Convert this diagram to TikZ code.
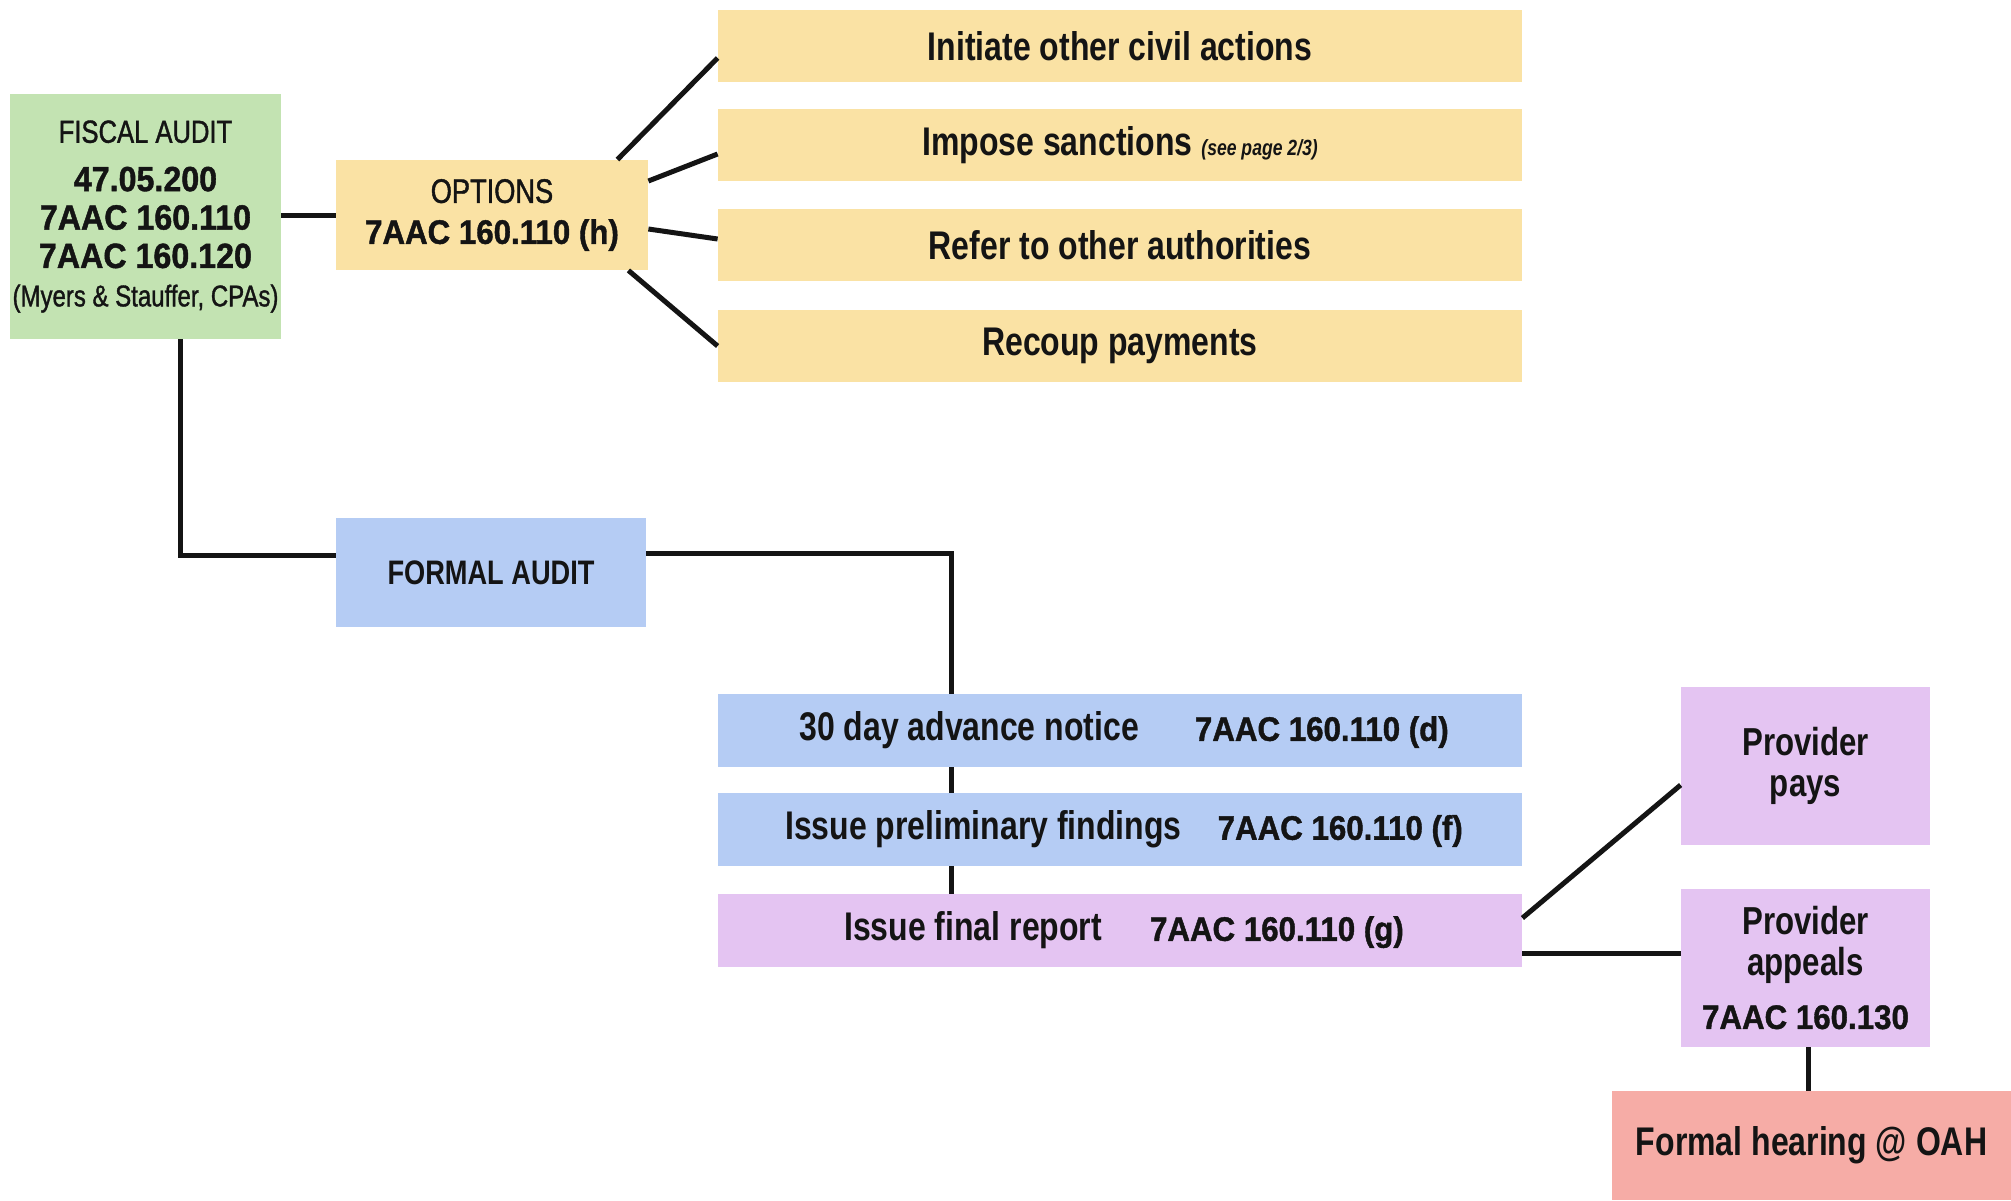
\documentclass[tikz,border=0pt]{standalone}
\usepackage{fontspec}
\setmainfont{Liberation Sans}
\newfontfamily\nar[FakeStretch=0.8]{Liberation Sans}
\newfontfamily\narm[FakeStretch=0.8,FakeBold=1.2]{Liberation Sans}
\newfontfamily\cod[FakeStretch=0.92,FakeBold=1.2]{Liberation Sans}
\usetikzlibrary{calc}
\definecolor{cgreen}{HTML}{C3E3B2}
\definecolor{cyellow}{HTML}{FAE2A4}
\definecolor{cblue}{HTML}{B5CCF4}
\definecolor{clilac}{HTML}{E4C4F2}
\definecolor{csalmon}{HTML}{F6ACA6}
\definecolor{ink}{HTML}{141414}
\begin{document}
\begin{tikzpicture}[x=0.5pt,y=-0.5pt,
  box/.style={inner sep=0pt, align=center, text=ink},
  wide/.style={box, minimum width=402pt, minimum height=36pt, font=\nar\bfseries\fontsize{20}{22}\selectfont},
  tall/.style={box, fill=clilac, minimum width=124.5pt, minimum height=79pt, font=\nar\bfseries\fontsize{19.5}{20.5}\selectfont},
  ln/.style={line width=2.5pt, ink}]
\useasboundingbox (0,0) rectangle (2011,1200);
\fill[white] (0,0) rectangle (2011,1200);

% nodes
\node[box, fill=cgreen, minimum width=135.5pt, minimum height=122.5pt,
  font=\cod\bfseries\fontsize{17.5}{19.2}\selectfont] (fiscal) at (145.5,216.5)
  {{\narm\mdseries\fontsize{16}{19.2}\selectfont FISCAL AUDIT}\\[5pt]
   47.05.200\\7AAC 160.110\\7AAC 160.120\\
   {\narm\mdseries\fontsize{15}{19.2}\selectfont (Myers \& Stauffer, CPAs)}};

\node[box, fill=cyellow, minimum width=156pt, minimum height=55pt,
  font=\cod\bfseries\fontsize{17}{20.5}\selectfont] (options) at (492,215)
  {{\narm\mdseries OPTIONS}\\7AAC 160.110 (h)};

\node[wide, fill=cyellow] (initiate) at (1120,46) {Initiate other civil actions};
\node[wide, fill=cyellow] (impose) at (1120,145) {Impose sanctions {\itshape\fontsize{11}{12}\selectfont (see page 2/3)}};
\node[wide, fill=cyellow] (refer) at (1120,245) {Refer to other authorities};
\node[wide, fill=cyellow] (recoup) at (1120,346) {Recoup payments};

\node[box, fill=cblue, minimum width=155pt, minimum height=54.5pt,
  font=\nar\bfseries\fontsize{17}{20}\selectfont] (formal) at (491,572.5) {FORMAL AUDIT};

\node[wide, fill=cblue, minimum height=36.5pt] (notice) at (1120,730.5)
  {\hspace{4pt}30 day advance notice\hspace{28pt}{\cod\fontsize{17}{20}\selectfont 7AAC 160.110 (d)}};
\node[wide, fill=cblue, minimum height=36.5pt] (prelim) at (1120,829.5)
  {\hspace{4pt}Issue preliminary findings\hspace{18pt}{\cod\fontsize{17}{20}\selectfont 7AAC 160.110 (f)}};
\node[wide, fill=clilac, minimum height=36.5pt] (final) at (1120,930.5)
  {\hspace{4pt}Issue final report\hspace{24pt}{\cod\fontsize{17}{20}\selectfont 7AAC 160.110 (g)}};

\node[tall] (pays) at (1805.5,766) {Provider\\pays};
\node[tall] (appeals) at (1805.5,968) {Provider\\appeals\\[6pt]{\cod\fontsize{17}{20}\selectfont 7AAC 160.130}};
\node[box, fill=csalmon, minimum width=199.5pt, minimum height=54.5pt,
  font=\nar\bfseries\fontsize{20}{22}\selectfont] (hearing) at (1811.5,1145.5) {Formal hearing @ OAH};

% connectors
\draw[ln] (options.west) -- (options.west -| fiscal.east);
\draw[ln] ([xshift=-15.5pt]options.north east) -- ([yshift=-6pt]initiate.west);
\draw[ln] ([yshift=17pt]options.east) -- ([yshift=-4.5pt]impose.west);
\draw[ln] ([yshift=-7pt]options.east) -- ([yshift=3pt]refer.west);
\draw[ln] ([xshift=-10pt]options.south east) -- (recoup.west);

\draw[ln] ([xshift=17.25pt]fiscal.south) |- ([yshift=8.75pt]formal.west);
\coordinate (drop) at ($(notice.north west)+(234,0)$);
\draw[ln] ([yshift=9.75pt]formal.east) -| (drop);
\draw[ln] (notice.south -| drop) -- (prelim.north -| drop);
\draw[ln] (prelim.south -| drop) -- (final.north -| drop);

\draw[ln] ([yshift=6.25pt]final.east) -- ([yshift=-9.5pt]pays.west);
\draw[ln] ([yshift=-11.25pt]final.east) -- ([yshift=-11.25pt]final.east -| appeals.west);
\draw[ln] ([xshift=1.25pt]appeals.south) -- ([xshift=1.25pt]appeals.south |- hearing.north);
\end{tikzpicture}
\end{document}
